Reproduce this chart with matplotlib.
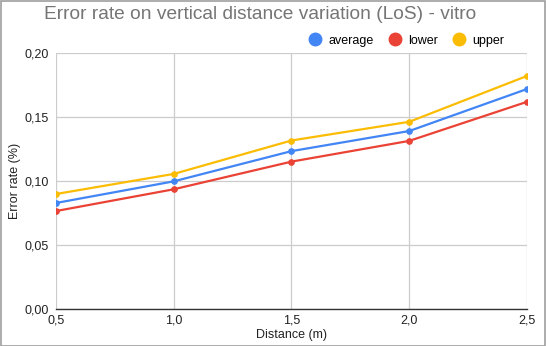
import matplotlib
matplotlib.use("Agg")
import matplotlib.pyplot as plt
from matplotlib.ticker import FuncFormatter
from matplotlib.lines import Line2D
from matplotlib.patches import Rectangle

plt.rcParams['font.family'] = ['Liberation Sans', 'DejaVu Sans']

distance = [0.5, 1.0, 1.5, 2.0, 2.5]
average = [0.0828, 0.0997, 0.1233, 0.1390, 0.1718]
lower = [0.0765, 0.0935, 0.1151, 0.1313, 0.1618]
upper = [0.0898, 0.1055, 0.1316, 0.1462, 0.1820]
series_names = ["average", "lower", "upper"]
colors = ["#4285F4", "#EA4335", "#FBBC04"]

fig = plt.figure(figsize=(5.46, 3.46), dpi=100)
ax = fig.add_axes([0.1026, 0.107, 0.8625, 0.740])

for name, vals, c in zip(series_names, [average, lower, upper], colors):
    ax.plot(distance, vals, color=c, lw=1.6, marker='o', markersize=3.8,
            label=name, zorder=3, solid_capstyle='round')

ax.set_xlim(0.5, 2.5)
ax.set_ylim(0, 0.20)
ax.set_xticks(distance)
ax.set_yticks([0, 0.05, 0.10, 0.15, 0.20])
ax.xaxis.set_major_formatter(FuncFormatter(lambda v, p: f"{v:.1f}".replace('.', ',')))
ax.yaxis.set_major_formatter(FuncFormatter(lambda v, p: f"{v:.2f}".replace('.', ',')))
ax.grid(True, color='#cccccc', lw=0.9, zorder=0)
for s in ['top', 'right', 'left']:
    ax.spines[s].set_visible(False)
ax.spines['bottom'].set_color('#333333')
ax.spines['bottom'].set_linewidth(1.0)
ax.tick_params(axis='both', length=0, labelsize=9, colors='#222222', pad=5)
ax.tick_params(axis='x', pad=4)
ax.set_xlabel("Distance (m)", fontsize=9, color='#222222', labelpad=2)
ax.set_ylabel("Error rate (%)", fontsize=9, color='#222222', labelpad=3)

fig.text(0.476, 0.958, "Error rate on vertical distance variation (LoS) - vitro",
         ha='center', va='center', fontsize=13.8, color='#757575')

handles = [Line2D([], [], ls='none', marker='o', markersize=9, color=c) for c in colors]
fig.legend(handles, series_names, loc='center right', bbox_to_anchor=(0.935, 0.882),
           ncol=3, frameon=False, fontsize=9, handletextpad=0.45, columnspacing=1.1,
           handlelength=1.2, borderpad=0)

fig.patches.append(Rectangle((0.001, 0.001), 0.998, 0.997, transform=fig.transFigure,
                             fill=False, edgecolor='#9e9e9e', lw=1.2))

fig.savefig("out.png", dpi=100)
